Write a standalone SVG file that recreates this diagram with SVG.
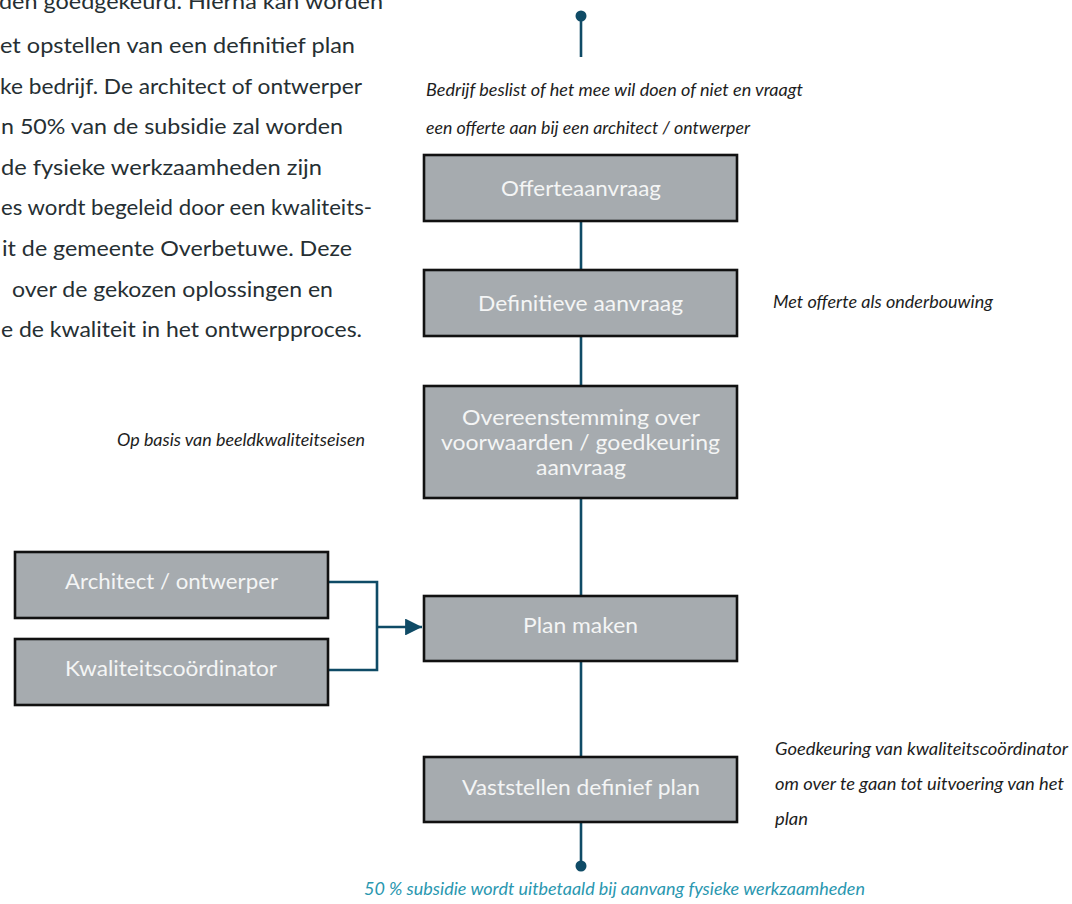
<svg xmlns="http://www.w3.org/2000/svg" width="1072" height="904" viewBox="0 0 1072 904">
<style>
.para{font-family:Lato,"Open Sans","Liberation Sans",sans-serif;font-size:22px;fill:#262f33}
.box{fill:#a6abaf;stroke:#111;stroke-width:2.6}
.bt{font-family:Lato,"Open Sans","Liberation Sans",sans-serif;font-size:22px;fill:#f4f5f5}
.it{font-family:Lato,"Open Sans","Liberation Sans",sans-serif;font-style:italic;font-size:16.5px;fill:#1d1d1d}
.teal{font-family:Lato,"Open Sans","Liberation Sans",sans-serif;font-style:italic;font-size:16.5px;fill:#2a97b0}
.con{stroke:#0f4b66;stroke-width:2.6;fill:none}
</style>
<defs>
<marker id="arr" viewBox="0 0 10 10" refX="10" refY="5" markerWidth="6.5" markerHeight="6.5" markerUnits="strokeWidth" orient="auto">
<path d="M0,0 L10,5 L0,10 z" fill="#0f4b66"/>
</marker>
</defs>
<rect width="1072" height="904" fill="#ffffff"/>
<g id="paragraph">
<text class="para" x="-1" y="9" textLength="384" lengthAdjust="spacingAndGlyphs">den goedgekeurd. Hierna kan worden</text>
<text class="para" x="0" y="53" textLength="355" lengthAdjust="spacingAndGlyphs">et opstellen van een definitief plan</text>
<text class="para" x="0" y="94" textLength="362" lengthAdjust="spacingAndGlyphs">ke bedrijf. De architect of ontwerper</text>
<text class="para" x="1" y="134" textLength="342" lengthAdjust="spacingAndGlyphs">n 50% van de subsidie zal worden</text>
<text class="para" x="1" y="175" textLength="321" lengthAdjust="spacingAndGlyphs">de fysieke werkzaamheden zijn</text>
<text class="para" x="1" y="215" textLength="371" lengthAdjust="spacingAndGlyphs">es wordt begeleid door een kwaliteits-</text>
<text class="para" x="2" y="256" textLength="350" lengthAdjust="spacingAndGlyphs">it de gemeente Overbetuwe. Deze</text>
<text class="para" x="12" y="297" textLength="321" lengthAdjust="spacingAndGlyphs">over de gekozen oplossingen en</text>
<text class="para" x="1" y="337" textLength="361" lengthAdjust="spacingAndGlyphs">e de kwaliteit in het ontwerpproces.</text>
</g>
<g id="connectors">
<circle cx="581" cy="16" r="5.5" fill="#0f4b66"/>
<line class="con" x1="581" y1="16" x2="581" y2="57"/>
<line class="con" x1="581" y1="222" x2="581" y2="269"/>
<line class="con" x1="581" y1="337" x2="581" y2="385"/>
<line class="con" x1="581" y1="499" x2="581" y2="595"/>
<line class="con" x1="581" y1="662" x2="581" y2="756"/>
<line class="con" x1="581" y1="823" x2="581" y2="866"/>
<circle cx="581" cy="866" r="5.5" fill="#0f4b66"/>
<polyline class="con" points="328,582 377,582 377,670 328,670"/>
<line class="con" x1="377" y1="627" x2="422" y2="627" marker-end="url(#arr)"/>
</g>
<g id="label-top">
<text class="it" x="426" y="96" textLength="377" lengthAdjust="spacingAndGlyphs">Bedrijf beslist of het mee wil doen  of niet en vraagt</text>
<text class="it" x="426" y="134" textLength="324" lengthAdjust="spacingAndGlyphs">een offerte aan bij een architect / ontwerper</text>
</g>
<g id="node-offerteaanvraag">
<rect class="box" x="424" y="155" width="313" height="66"/>
<text class="bt" x="501" y="196" textLength="160" lengthAdjust="spacingAndGlyphs">Offerteaanvraag</text>
</g>
<g id="node-definitieve">
<rect class="box" x="424" y="270" width="313" height="66"/>
<text class="bt" x="478" y="311" textLength="205" lengthAdjust="spacingAndGlyphs">Definitieve aanvraag</text>
</g>
<g id="label-met-offerte">
<text class="it" x="773" y="308" textLength="220" lengthAdjust="spacingAndGlyphs">Met offerte als onderbouwing</text>
</g>
<g id="node-overeenstemming">
<rect class="box" x="424" y="386" width="313" height="112"/>
<text class="bt" x="462" y="425" textLength="238" lengthAdjust="spacingAndGlyphs">Overeenstemming over</text>
<text class="bt" x="441" y="450" textLength="279" lengthAdjust="spacingAndGlyphs">voorwaarden / goedkeuring</text>
<text class="bt" x="536" y="475" textLength="90" lengthAdjust="spacingAndGlyphs">aanvraag</text>
</g>
<g id="label-beeldkwaliteit">
<text class="it" x="117" y="446" textLength="248" lengthAdjust="spacingAndGlyphs">Op basis van beeldkwaliteitseisen</text>
</g>
<g id="node-architect">
<rect class="box" x="15" y="552" width="313" height="66"/>
<text class="bt" x="65" y="589" textLength="213" lengthAdjust="spacingAndGlyphs">Architect / ontwerper</text>
</g>
<g id="node-kwaliteit">
<rect class="box" x="15" y="639" width="313" height="66"/>
<text class="bt" x="65" y="676" textLength="212" lengthAdjust="spacingAndGlyphs">Kwaliteitscoördinator</text>
</g>
<g id="node-plan-maken">
<rect class="box" x="424" y="596" width="313" height="65"/>
<text class="bt" x="523" y="633" textLength="115" lengthAdjust="spacingAndGlyphs">Plan maken</text>
</g>
<g id="node-vaststellen">
<rect class="box" x="424" y="757" width="313" height="65"/>
<text class="bt" x="462" y="795" textLength="238" lengthAdjust="spacingAndGlyphs">Vaststellen definief plan</text>
</g>
<g id="label-goedkeuring">
<text class="it" x="775" y="755" textLength="293" lengthAdjust="spacingAndGlyphs">Goedkeuring van kwaliteitscoördinator</text>
<text class="it" x="775" y="790" textLength="289" lengthAdjust="spacingAndGlyphs">om over te gaan tot uitvoering van het</text>
<text class="it" x="775" y="825" textLength="33" lengthAdjust="spacingAndGlyphs">plan</text>
</g>
<g id="label-subsidie">
<text class="teal" x="364" y="895" textLength="501" lengthAdjust="spacingAndGlyphs">50 % subsidie wordt uitbetaald bij aanvang fysieke werkzaamheden</text>
</g>
</svg>
